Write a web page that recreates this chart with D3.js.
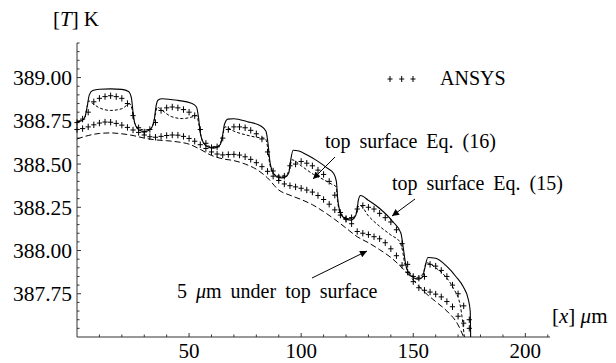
<!DOCTYPE html>
<html>
<head>
<meta charset="utf-8">
<script src="https://cdn.jsdelivr.net/npm/d3@7"></script>
<style>
  body { margin: 0; background: #fff; }
  svg text { font-family: 'Liberation Serif', 'Times New Roman', serif; fill: #000; }
</style>
</head>
<body>
<div id="drawArea"></div>
<script>
// axis ticks
const yTicks = [387.75, 388.00, 388.25, 388.50, 388.75, 389.00];
const xTicks = [50, 100, 150, 200];

// ANSYS nodes, x in micrometres
const ansysX = [0, 2.5, 5, 7.5, 10, 12.5, 15, 17.5, 20, 22.5, 25, 27.5, 30, 32.5, 35, 37.5, 40, 42.5, 45, 47.5,
  50, 52.5, 55, 57.5, 60, 62.5, 65, 67.5, 70, 72.5, 75, 77.5, 80, 82.5, 85, 87.5, 90, 92.5, 95, 97.5,
  100, 102.5, 105, 107.5, 110, 112.5, 115, 117.5, 120, 122.5, 125, 127.5, 130, 132.5, 135, 137.5, 140, 142.5, 145, 147.5,
  150, 152.5, 155, 157.5, 160, 162.5, 165, 167.5, 170, 172.5, 175];
const ansysTop = [388.74, 388.76, 388.80, 388.86, 388.88, 388.89, 388.895, 388.89, 388.88, 388.85,
  388.78, 388.71, 388.685, 388.70, 388.74, 388.81, 388.825, 388.83, 388.825, 388.815,
  388.80, 388.78, 388.70, 388.62, 388.595, 388.60, 388.65, 388.70, 388.715, 388.715,
  388.71, 388.695, 388.675, 388.645, 388.57, 388.46, 388.425, 388.43, 388.49, 388.50,
  388.515, 388.505, 388.49, 388.465, 388.44, 388.40, 388.32, 388.22, 388.185, 388.19,
  388.24, 388.26, 388.25, 388.24, 388.215, 388.19, 388.165, 388.12, 388.04, 387.92,
  387.85, 387.84, 387.85, 387.92, 387.91, 387.885, 387.85, 387.80, 387.75, 387.68, 387.60];
const ansysSub = [388.70, 388.705, 388.715, 388.727, 388.737, 388.743, 388.742, 388.735, 388.725, 388.712,
  388.697, 388.683, 388.668, 388.658, 388.655, 388.66, 388.665, 388.668, 388.667, 388.66,
  388.648, 388.632, 388.612, 388.59, 388.57, 388.558, 388.553, 388.555, 388.556, 388.552,
  388.542, 388.527, 388.508, 388.485, 388.458, 388.43, 388.405, 388.385, 388.375, 388.368,
  388.36, 388.35, 388.338, 388.318, 388.295, 388.268, 388.235, 388.205, 388.18, 388.155,
  388.11, 388.10, 388.092, 388.08, 388.068, 388.045, 388.01, 387.97, 387.915, 387.875,
  387.82, 387.785, 387.77, 387.76, 387.748, 387.732, 387.705, 387.675, 387.62, 387.58, 387.55];

// top surface, Eq. (15)
const eq15X = [0, 2, 3.5, 4.5, 5.5, 7, 10, 15, 20, 23, 24.3, 25, 25.7, 27, 29, 30.5, 32, 33.5, 34.5, 35.2,
  36.2, 38, 45, 51, 53.3, 54.2, 55, 56.5, 58.5, 60.7, 62.5, 64, 65, 65.8, 67.3, 70, 76, 82, 84.3, 85.2,
  86, 87.5, 89.5, 91.4, 93, 94.5, 95.3, 96.4, 99, 102.5, 107, 111.5, 114.5, 115.7, 116.3, 117.5, 119.5, 121.9, 123.5, 124.8,
  125.5, 126.5, 130, 135.3, 141, 144.5, 145.5, 146.5, 148.5, 152.2, 154, 155.2, 156.5, 160, 165, 169, 172.3, 174.5, 175.4, 175.6];
const eq15T = [388.745, 388.75, 388.77, 388.83, 388.90, 388.925, 388.933, 388.935, 388.932, 388.92,
  388.88, 388.80, 388.74, 388.705, 388.69, 388.688, 388.695, 388.715, 388.76, 388.83,
  388.87, 388.878, 388.868, 388.852, 388.83, 388.77, 388.68, 388.62, 388.598, 388.592,
  388.597, 388.615, 388.67, 388.73, 388.76, 388.762, 388.745, 388.72, 388.69, 388.62,
  388.52, 388.45, 388.425, 388.42, 388.425, 388.45, 388.52, 388.58, 388.575, 388.554,
  388.52, 388.478, 388.445, 388.40, 388.30, 388.22, 388.185, 388.176, 388.185, 388.22,
  388.29, 388.318, 388.29, 388.24, 388.165, 388.10, 388.02, 387.93, 387.86, 387.834,
  387.845, 387.90, 387.96, 387.955, 387.908, 387.85, 387.79, 387.72, 387.65, 387.50];

// top surface, Eq. (16)
const eq16X = [0, 2, 3.5, 4.5, 5.2, 7, 10, 15, 20, 23.5, 24.5, 25.2, 26.5, 28.5, 30.5, 32.5, 34, 35, 35.8, 38,
  42, 47, 52, 53.4, 54.5, 55.5, 57.5, 60.5, 63, 64.5, 65.4, 66, 70, 75.8, 80, 84, 85, 86, 88, 91,
  93.5, 95, 95.8, 100, 105.5, 110, 113.7, 115.5, 116.3, 118, 121.5, 124, 125.3, 126.3, 130, 135, 140, 144, 145.2, 146.3,
  148.5, 152, 154.5, 155.8, 156.7, 160, 165, 168, 171, 172.8];
const eq16T = [388.745, 388.75, 388.77, 388.83, 388.865, 388.85, 388.825, 388.81, 388.82, 388.848,
  388.82, 388.76, 388.72, 388.70, 388.697, 388.70, 388.73, 388.79, 388.829, 388.81,
  388.775, 388.763, 388.775, 388.781, 388.72, 388.65, 388.61, 388.60, 388.605, 388.64,
  388.69, 388.715, 388.69, 388.667, 388.655, 388.649, 388.60, 388.50, 388.44, 388.43,
  388.44, 388.48, 388.525, 388.49, 388.44, 388.41, 388.383, 388.37, 388.28, 388.20,
  388.185, 388.20, 388.25, 388.26, 388.20, 388.14, 388.09, 388.05, 388.00, 387.92,
  387.87, 387.845, 387.87, 387.93, 387.927, 387.90, 387.84, 387.78, 387.68, 387.50];

// 5 micrometres under top surface
const underX = [0, 5, 10, 15, 20, 25, 30, 35, 40, 45, 50, 55, 60, 65, 70, 75, 80, 85, 90, 95,
  100, 105, 110, 115, 120, 125, 130, 135, 140, 145, 150, 155, 160, 165, 170, 172.5];
const underT = [388.645, 388.665, 388.677, 388.68, 388.675, 388.665, 388.65, 388.64, 388.635, 388.628,
  388.615, 388.585, 388.55, 388.53, 388.52, 388.50, 388.47, 388.42, 388.35, 388.32,
  388.295, 388.265, 388.225, 388.18, 388.13, 388.08, 388.045, 388.005, 387.96, 387.90,
  387.83, 387.76, 387.705, 387.65, 387.57, 387.50];

const width = 616;
const height = 363;
const yMin = 387.5;
const yMax = 389.2;

const svg = d3.select('#drawArea').append('svg')
  .attr('width', width)
  .attr('height', height);

const x = d3.scaleLinear().domain([0, 211]).range([77, 550]);
const y = d3.scaleLinear().domain([yMin, yMax]).range([337, 43]);

// axes, Mathematica style: ticks point into the plot
const axisColor = '#333';
svg.append('line')
  .attr('x1', x(0)).attr('x2', x(211))
  .attr('y1', y(yMin)).attr('y2', y(yMin))
  .attr('stroke', axisColor).attr('stroke-width', 1);
svg.append('line')
  .attr('x1', x(0)).attr('x2', x(0))
  .attr('y1', y(yMin)).attr('y2', y(yMax))
  .attr('stroke', axisColor).attr('stroke-width', 1);

const xMinor = d3.range(10, 211, 10);
svg.selectAll('.xtick')
  .data(xMinor)
  .enter()
  .append('line')
  .attr('class', 'xtick')
  .attr('x1', d => x(d)).attr('x2', d => x(d))
  .attr('y1', y(yMin))
  .attr('y2', d => y(yMin) - (xTicks.includes(d) ? 4 : 2.5))
  .attr('stroke', axisColor);

const yMinor = d3.range(387.55, 389.21, 0.05);
svg.selectAll('.ytick')
  .data(yMinor)
  .enter()
  .append('line')
  .attr('class', 'ytick')
  .attr('y1', d => y(d)).attr('y2', d => y(d))
  .attr('x1', x(0))
  .attr('x2', d => x(0) + (yTicks.some(t => Math.abs(t - d) < 1e-6) ? 4 : 2.5))
  .attr('stroke', axisColor);

svg.selectAll('.ylabel')
  .data(yTicks)
  .enter()
  .append('text')
  .attr('class', 'ylabel')
  .attr('x', 72)
  .attr('y', d => y(d) + 7.5)
  .attr('text-anchor', 'end')
  .attr('font-size', 21.5)
  .text(d3.format('.2f'));

svg.selectAll('.xlabel')
  .data(xTicks)
  .enter()
  .append('text')
  .attr('class', 'xlabel')
  .attr('x', d => x(d))
  .attr('y', 358)
  .attr('text-anchor', 'middle')
  .attr('font-size', 21)
  .text(d => d);

const yTitle = svg.append('text')
  .attr('x', 76).attr('y', 26)
  .attr('text-anchor', 'middle')
  .attr('font-size', 21);
yTitle.append('tspan').text('[');
yTitle.append('tspan').attr('font-style', 'italic').text('T');
yTitle.append('tspan').text('] K');

const xTitle = svg.append('text')
  .attr('x', 552).attr('y', 323)
  .attr('font-size', 21);
xTitle.append('tspan').text('[');
xTitle.append('tspan').attr('font-style', 'italic').text('x');
xTitle.append('tspan').text('] ');
xTitle.append('tspan').attr('font-style', 'italic').text('μ');
xTitle.append('tspan').text('m');

// model curves
const line = d3.line()
  .x(d => x(d[0]))
  .y(d => y(d[1]))
  .curve(d3.curveMonotoneX);

svg.append('path')
  .attr('d', line(d3.zip(eq15X, eq15T)))
  .attr('fill', 'none')
  .attr('stroke', '#000')
  .attr('stroke-width', 1.1);

svg.append('path')
  .attr('d', line(d3.zip(eq16X, eq16T)))
  .attr('fill', 'none')
  .attr('stroke', '#000')
  .attr('stroke-width', 1)
  .attr('stroke-dasharray', '3,2');

svg.append('path')
  .attr('d', line(d3.zip(underX, underT)))
  .attr('fill', 'none')
  .attr('stroke', '#000')
  .attr('stroke-width', 1)
  .attr('stroke-dasharray', '6,3');

// ANSYS crosses
const crossW = 2.6;
const crossH = 3.2;
function drawCrosses(xs, ts) {
  const g = svg.append('g');
  g.selectAll('path')
    .data(d3.zip(xs, ts))
    .enter()
    .append('path')
    .attr('d', d => {
      const px = x(d[0]), py = y(d[1]);
      return `M${px - crossW},${py}H${px + crossW}M${px},${py - crossH}V${py + crossH}`;
    })
    .attr('stroke', '#000')
    .attr('stroke-width', 1)
    .attr('fill', 'none');
}
drawCrosses(ansysX, ansysTop);
drawCrosses(ansysX, ansysSub);

// legend
const legendXs = [390, 401.7, 413];
svg.selectAll('.legcross')
  .data(legendXs)
  .enter()
  .append('path')
  .attr('class', 'legcross')
  .attr('d', d => `M${d - 2.5},79H${d + 2.5}M${d},76V82`)
  .attr('stroke', '#000');
svg.append('text')
  .attr('x', 440).attr('y', 85)
  .attr('font-size', 20)
  .text('ANSYS');

// annotations with arrows
svg.append('defs').append('marker')
  .attr('id', 'arrow')
  .attr('viewBox', '0 0 10 10')
  .attr('refX', 10).attr('refY', 5)
  .attr('markerWidth', 11).attr('markerHeight', 7)
  .attr('markerUnits', 'userSpaceOnUse')
  .attr('orient', 'auto')
  .append('path')
  .attr('d', 'M0,0L10,5L0,10Z')
  .attr('fill', '#000');

const notes = [
  { text: 'top surface Eq. (16)', tx: 325, ty: 148, from: [335, 157], to: [313, 179] },
  { text: 'top surface Eq. (15)', tx: 392, ty: 190, from: [415, 199], to: [392, 216] },
];
notes.forEach(n => {
  svg.append('text')
    .attr('x', n.tx).attr('y', n.ty)
    .attr('font-size', 20)
    .attr('word-spacing', 4)
    .text(n.text);
  svg.append('line')
    .attr('x1', n.from[0]).attr('y1', n.from[1])
    .attr('x2', n.to[0]).attr('y2', n.to[1])
    .attr('stroke', '#000')
    .attr('marker-end', 'url(#arrow)');
});

const underLabel = svg.append('text')
  .attr('x', 177).attr('y', 298)
  .attr('font-size', 20)
  .attr('word-spacing', 4);
underLabel.append('tspan').text('5 ');
underLabel.append('tspan').attr('font-style', 'italic').text('μ');
underLabel.append('tspan').text('m under top surface');
svg.append('line')
  .attr('x1', 312).attr('y1', 278)
  .attr('x2', 367).attr('y2', 251)
  .attr('stroke', '#000')
  .attr('marker-end', 'url(#arrow)');
</script>
</body>
</html>
